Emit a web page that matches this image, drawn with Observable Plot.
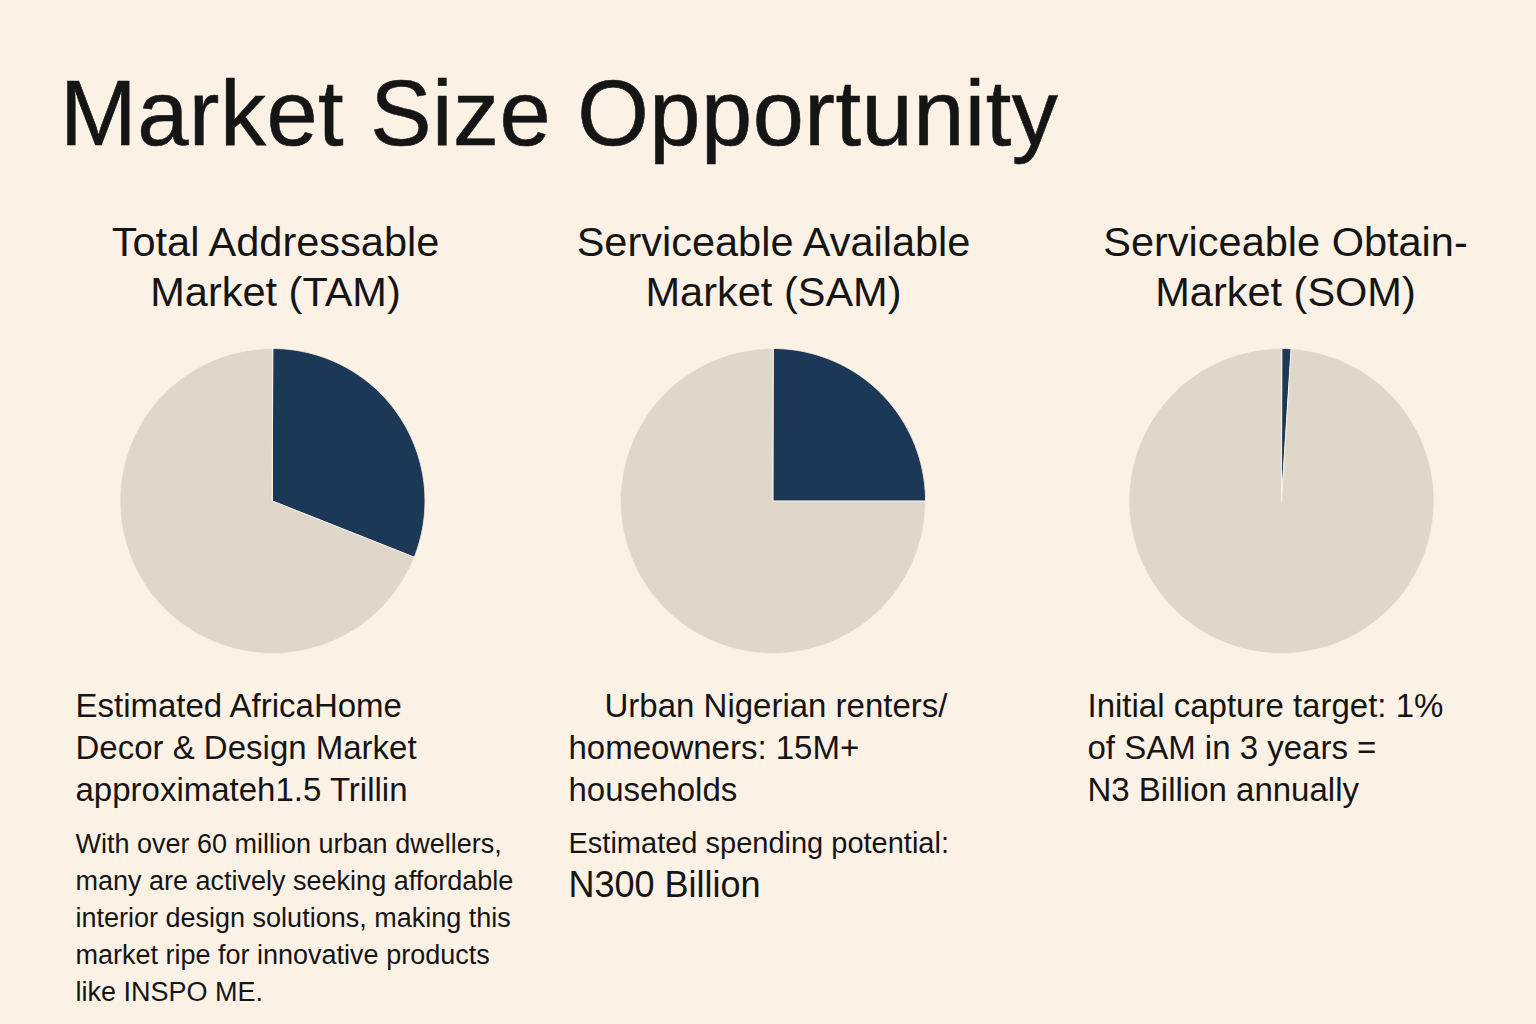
<!DOCTYPE html>
<html>
<head>
<meta charset="utf-8">
<script src="https://cdn.jsdelivr.net/npm/d3@7"></script>
<script src="https://cdn.jsdelivr.net/npm/@observablehq/plot@0.6"></script>
<style>
  html, body { margin: 0; padding: 0; background: #fcf1e5; }
  body { width: 1536px; height: 1024px; overflow: hidden; font-family: "Liberation Sans", Arial, sans-serif; color: #151515; }
  #head { height: 190px; box-sizing: border-box; padding: 67px 0 0 60px; }
  #head h1 { margin: 0; font-size: 92px; line-height: 92px; font-weight: 400; letter-spacing: 0.5px; -webkit-text-stroke: 0.6px #151515; }
  #chart svg { display: block; }
</style>
</head>
<body>
<div id="head"><h1>Market Size Opportunity</h1></div>
<div id="chart"></div>
<script>
// Market segments and their share of each pie (percent)
const segments = ["TAM", "SAM", "SOM"];
const shares = [31, 25, 1];

// Column headings, two lines each
const headingLines = [
  ["Total Addressable", "Market (TAM)"],
  ["Serviceable Available", "Market (SAM)"],
  ["Serviceable Obtain-", "Market (SOM)"]
];

// Summary text below each pie
const summaryLines = [
  ["Estimated AfricaHome", "Decor & Design Market", "approximateh1.5 Trillin"],
  ["Urban Nigerian renters/", "homeowners: 15M+", "households"],
  ["Initial capture target: 1%", "of SAM in 3 years =", "N3 Billion annually"]
];

// Supporting notes
const tamNoteLines = [
  "With over 60 million urban dwellers,",
  "many are actively seeking affordable",
  "interior design solutions, making this",
  "market ripe for innovative products",
  "like INSPO ME."
];
const samNoteLabel = ["Estimated spending potential:"];
const samNoteValue = ["N300 Billion"];

// Layout (page pixel coordinates)
const W = 1536, H = 1024, TOP = 190;
const DARK = "#1b3857", LIGHT = "#e0d7cb", BG = "#fcf1e5", INK = "#151515";
const pieX = [272, 772.5, 1281], pieY = 500.5, pieR = 152.5;
const headX = [275, 773, 1285], headY = [255, 305];
const textX = [75, 568, 1087], firstIndent = [0, 36, 0];
const summaryY = [716, 758, 800];
const noteY = [852, 889, 926, 963, 1000];

// Slice outlines from d3.pie angles (clockwise from 12 o'clock)
const slicePoints = [];
shares.forEach((s, i) => {
  d3.pie().sort(null)([s, 100 - s]).forEach((a, j) => {
    const key = `${segments[i]}-${j}`;
    const part = j === 0 ? "share" : "rest";
    const n = Math.max(2, Math.ceil((a.endAngle - a.startAngle) / 0.005));
    slicePoints.push({key, part, x: pieX[i], y: pieY});
    for (let k = 0; k <= n; k++) {
      const t = a.startAngle + (a.endAngle - a.startAngle) * k / n;
      slicePoints.push({key, part, x: pieX[i] + pieR * Math.sin(t), y: pieY - pieR * Math.cos(t)});
    }
  });
});

// Text tables
const headings = headingLines.flatMap((lines, i) =>
  lines.map((text, k) => ({text, x: headX[i], y: headY[k]})));
const summaries = summaryLines.flatMap((lines, i) =>
  lines.map((text, k) => ({text, x: textX[i] + (k === 0 ? firstIndent[i] : 0), y: summaryY[k]})));
const tamNotes = tamNoteLines.map((text, k) => ({text, x: textX[0], y: noteY[k]}));
const samLabel = samNoteLabel.map(text => ({text, x: textX[1], y: 852}));
const samValue = samNoteValue.map(text => ({text, x: textX[1], y: 896}));

const font = "Liberation Sans, Arial, sans-serif";
const textOpts = (size, anchor = "start") => ({
  x: "x", y: "y", text: "text", fontSize: size, textAnchor: anchor,
  lineAnchor: "bottom", fill: INK, fontFamily: font
});

const chart = Plot.plot({
  width: W,
  height: H - TOP,
  margin: 0,
  style: {background: BG, fontFamily: font, overflow: "visible"},
  x: {domain: [0, W], range: [0, W], axis: null},
  y: {domain: [TOP, H], range: [0, H - TOP], axis: null},
  color: {domain: ["share", "rest"], range: [DARK, LIGHT]},
  marks: [
    Plot.line(slicePoints, {x: "x", y: "y", z: "key", fill: "part", stroke: BG, strokeWidth: 1, curve: "linear-closed"}),
    Plot.text(headings, textOpts(41.5, "middle")),
    Plot.text(summaries, textOpts(33)),
    Plot.text(tamNotes, textOpts(27)),
    Plot.text(samLabel, textOpts(29)),
    Plot.text(samValue, textOpts(36))
  ]
});
document.getElementById("chart").append(chart);
</script>
</body>
</html>
